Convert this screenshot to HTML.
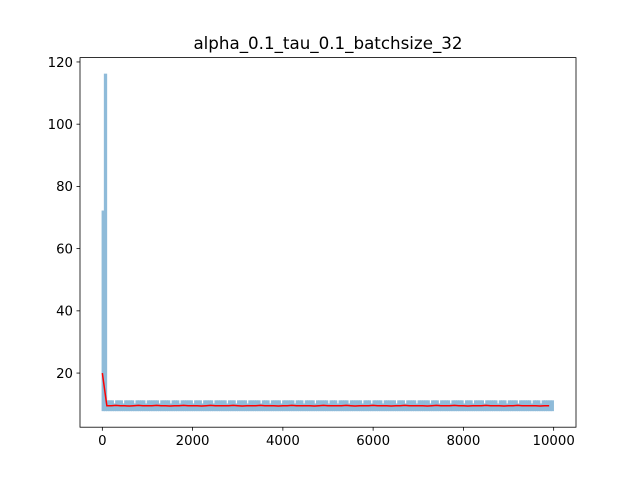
<!DOCTYPE html>
<html><head><meta charset="utf-8"><style>
body{margin:0;background:#fff}
svg{display:block;font-family:"DejaVu Sans","Liberation Sans",sans-serif}
</style></head><body>
<svg id="chart" width="640" height="480">
<rect width="640" height="480" fill="#fff"/>
<text x="328" y="49" text-anchor="middle" font-size="16.7">alpha_0.1_tau_0.1_batchsize_32</text>
<g id="plot"></g>
<rect x="80" y="57.6" width="496" height="369.6" fill="none" stroke="#000" stroke-width="0.8"/>
<g id="ticks"></g>
</svg>
<script>
const xTicks=[0,2000,4000,6000,8000,10000];
const yTicks=[20,40,60,80,100,120];
const blueStep=50;
const blueMax=[72,116,11,11,11,10,11,11,11,10,11,11,11,11,10,11,11,11,11,10,11,11,11,11,11,10,11,11,11,11,10,11,11,11,10,11,11,11,11,11,10,11,11,11,10,11,11,11,11,10,11,11,11,11,11,10,11,11,11,10,11,11,11,11,10,11,11,11,11,11,10,11,11,11,10,11,11,11,11,10,11,11,11,11,11,10,11,11,11,10,11,11,11,11,10,11,11,11,11,11,10,11,11,11,10,11,11,11,11,10,11,11,11,11,11,10,11,11,11,10,11,11,11,11,10,11,11,11,11,11,10,11,11,11,10,11,11,11,11,10,11,11,11,11,11,10,11,11,11,10,11,11,11,11,10,11,11,11,11,11,10,11,11,11,10,11,11,11,11,10,11,11,11,11,11,10,11,11,11,10,11,11,11,11,10,11,11,11,11,11,10,11,11,11,10,11,11,11,11,11];
const blueMin=[8,8,8,8,8,8,8,8,8,8,8,8,8,8,8,8,8,8,8,8,8,8,8,8,8,8,8,8,8,8,8,8,8,8,8,8,8,8,8,8,8,8,8,8,8,8,8,8,8,8,8,8,8,8,8,8,8,8,8,8,8,8,8,8,8,8,8,8,8,8,8,8,8,8,8,8,8,8,8,8,8,8,8,8,8,8,8,8,8,8,8,8,8,8,8,8,8,8,8,8,8,8,8,8,8,8,8,8,8,8,8,8,8,8,8,8,8,8,8,8,8,8,8,8,8,8,8,8,8,8,8,8,8,8,8,8,8,8,8,8,8,8,8,8,8,8,8,8,8,8,8,8,8,8,8,8,8,8,8,8,8,8,8,8,8,8,8,8,8,8,8,8,8,8,8,8,8,8,8,8,8,8,8,8,8,8,8,8,8,8,8,8,8,8,8,8,8,8,8,8];
const redStep=100;
const redVals=[20,9.5,9.5,9.6,9.5,9.5,9.4,9.5,9.6,9.5,9.5,9.5,9.6,9.5,9.5,9.4,9.5,9.5,9.6,9.5,9.5,9.5,9.4,9.5,9.6,9.5,9.5,9.5,9.5,9.6,9.5,9.4,9.5,9.5,9.5,9.6,9.5,9.5,9.5,9.4,9.5,9.5,9.6,9.5,9.5,9.5,9.5,9.4,9.5,9.6,9.5,9.5,9.5,9.5,9.6,9.5,9.4,9.5,9.5,9.5,9.6,9.5,9.5,9.5,9.4,9.5,9.5,9.6,9.5,9.5,9.5,9.5,9.4,9.5,9.6,9.5,9.5,9.5,9.6,9.5,9.5,9.4,9.5,9.5,9.5,9.6,9.5,9.5,9.5,9.4,9.5,9.5,9.6,9.5,9.5,9.5,9.5,9.4,9.5,9.5];
const X0=80,X1=576,Y0=427.2,Y1=57.6,xmin=-495,xmax=10495,ymin=2.6,ymax=121.4;
const sx=v=>X0+(v-xmin)/(xmax-xmin)*(X1-X0);
const sy=v=>Y0-(v-ymin)/(ymax-ymin)*(Y0-Y1);
const NS="http://www.w3.org/2000/svg";
const plot=document.getElementById('plot'),tk=document.getElementById('ticks');
function mk(t,a,p){const e=document.createElementNS(NS,t);for(const k in a)e.setAttribute(k,a[k]);p.appendChild(e);return e;}
blueMax.forEach((mx,i)=>{
 const x1=sx(i*blueStep)-0.75,x2=sx((i+1)*blueStep-10)+0.75;
 const r=mk('rect',{x:x1,y:sy(mx)-0.75,width:Math.max(1.5,x2-x1),height:sy(blueMin[i])-sy(mx)+1.5,fill:'#8fbbd9'},plot);
 
 
});
const rp=mk('polyline',{points:redVals.map((v,i)=>sx(i*redStep)+','+sy(v)).join(' '),fill:'none',stroke:'#ff0000','stroke-width':1.5},plot);


xTicks.forEach(t=>{const x=sx(t);
 const l=mk('line',{x1:x,x2:x,y1:Y0,y2:Y0+3.5,stroke:'#000','stroke-width':0.8},tk);
 
 
 const s=mk('text',{x:x,y:Y0+18,'text-anchor':'middle','font-size':13.3},tk);s.textContent=t;
 
 });
yTicks.forEach(t=>{const y=sy(t);
 const l=mk('line',{x1:X0-3.5,x2:X0,y1:y,y2:y,stroke:'#000','stroke-width':0.8},tk);
 
 
 const s=mk('text',{x:X0-7,y:y+4.8,'text-anchor':'end','font-size':13.3},tk);s.textContent=t;
 
 });
</script>
</body></html>
